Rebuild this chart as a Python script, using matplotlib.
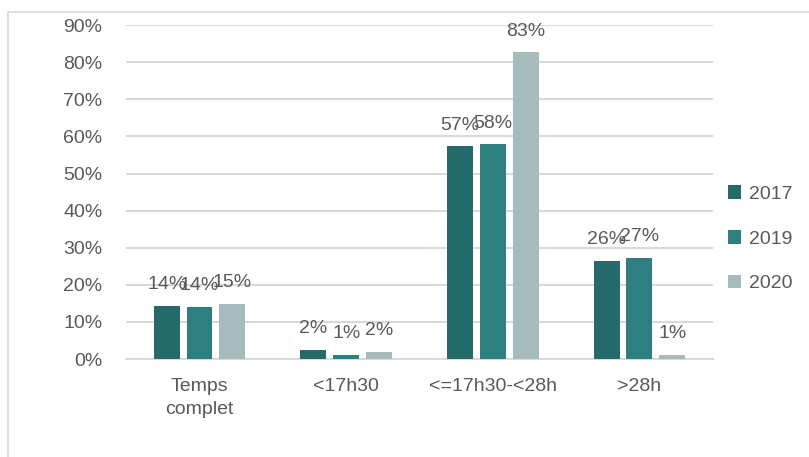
import matplotlib
matplotlib.use("Agg")
import matplotlib.pyplot as plt
from matplotlib.lines import Line2D
import numpy as np

plt.rcParams['font.family'] = ['Liberation Sans', 'DejaVu Sans']

categories = ["Temps\ncomplet", "<17h30", "<=17h30-<28h", ">28h"]
years = ["2017", "2019", "2020"]
values_2017 = [14.3, 2.4, 57.3, 26.4]
values_2019 = [14.1, 1.1, 57.9, 27.2]
values_2020 = [14.8, 2.0, 82.7, 1.2]
labels_2017 = ["14%", "2%", "57%", "26%"]
labels_2019 = ["14%", "1%", "58%", "27%"]
labels_2020 = ["15%", "2%", "83%", "1%"]

colors = ["#256B6B", "#2E7F80", "#A6BBBE"]
text_color = "#595959"
grid_color = "#D9D9D9"

fig = plt.figure(figsize=(8.09, 4.57), dpi=100)
ax = fig.add_axes([0.156, 0.2144, 0.725, 0.7306])

x = np.arange(len(categories))
bar_w = 0.177
step = 0.224
series = [values_2017, values_2019, values_2020]
labels = [labels_2017, labels_2019, labels_2020]

for i, (vals, labs) in enumerate(zip(series, labels)):
    pos = x + (i - 1) * step
    ax.bar(pos, vals, width=bar_w, color=colors[i], label=years[i], zorder=3)
    # data labels above each bar (they overlap in the original too)
    for p, v, t in zip(pos, vals, labs):
        ax.annotate(t, (p, v), xytext=(0, 12), textcoords='offset points',
                    ha='center', va='baseline', fontsize=14,
                    color=text_color, zorder=4)

ax.set_xlim(-0.5, len(categories) - 0.5)
ax.set_ylim(0, 90)
ax.set_yticks(range(0, 91, 10))
ax.set_yticklabels([f"{v}%" for v in range(0, 91, 10)])
ax.set_xticks(x)
ax.set_xticklabels(categories, linespacing=1.45)
ax.yaxis.grid(True, color=grid_color, linewidth=1.5, zorder=0)
ax.set_axisbelow(True)
for s in ['top', 'right', 'left']:
    ax.spines[s].set_visible(False)
ax.spines['bottom'].set_color(grid_color)
ax.spines['bottom'].set_linewidth(1.5)
ax.tick_params(axis='both', length=0, labelsize=14, colors=text_color)
ax.tick_params(axis='y', pad=17)
ax.tick_params(axis='x', pad=14)

leg = fig.legend(loc='upper left', bbox_to_anchor=(0.878, 0.633), frameon=False,
                 fontsize=14, handlelength=0.7, handleheight=0.7,
                 handletextpad=0.4, labelspacing=1.4, labelcolor=text_color)

# outer chart border (only left and top visible in the crop)
fig.add_artist(Line2D([8 / 809, 8 / 809, 1], [0, 1 - 12 / 457, 1 - 12 / 457],
                      transform=fig.transFigure, color=grid_color, linewidth=1.2))

fig.savefig("out.png", dpi=100)
